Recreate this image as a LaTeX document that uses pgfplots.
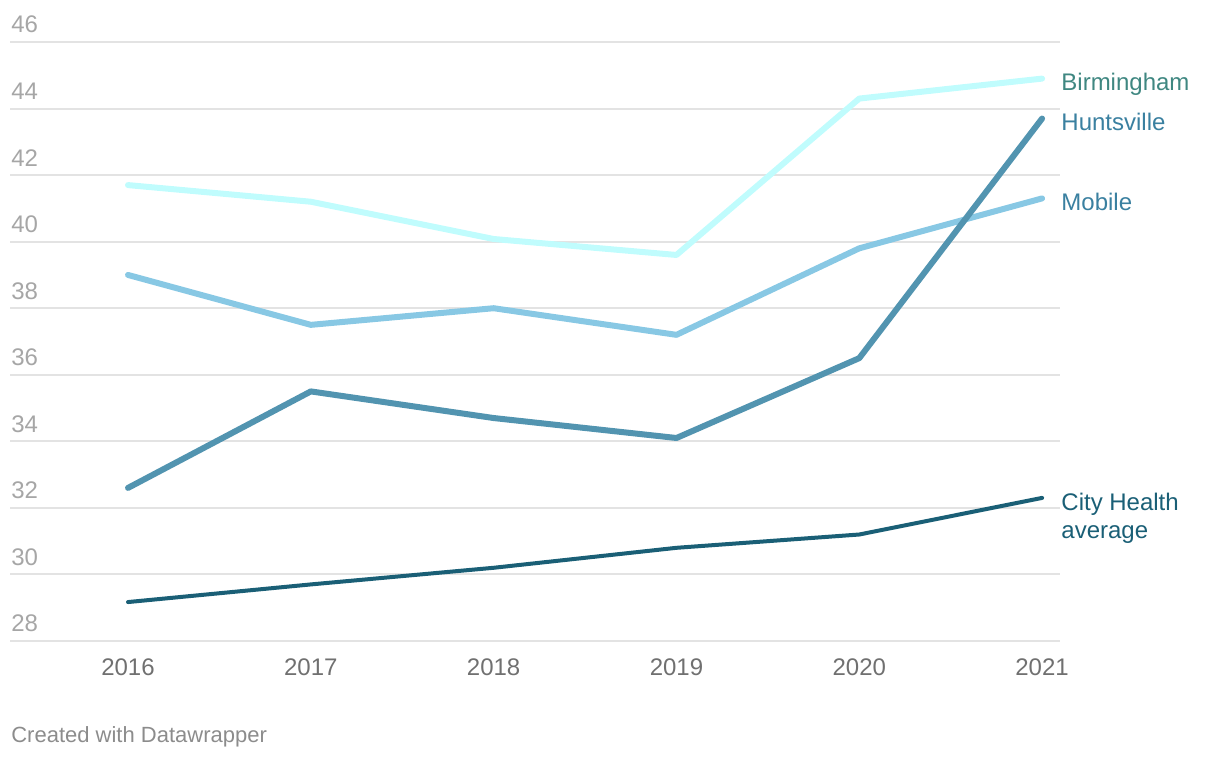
\documentclass[border=0pt]{standalone}
\usepackage{pgfplots}
\pgfplotsset{compat=1.18}
\usepackage{fontspec}
\setmainfont{Liberation Sans}

% 1 px of the reference = 0.6pt
\definecolor{gridc}{HTML}{E3E3E3}
\definecolor{ytc}{HTML}{A6A6A6}
\definecolor{xtc}{HTML}{707070}
\definecolor{foot}{HTML}{8C8C8C}
\definecolor{birm}{HTML}{C0FCFD}
\definecolor{birmlab}{HTML}{3F8781}
\definecolor{mob}{HTML}{88C8E4}
\definecolor{hunt}{HTML}{5294B0}
\definecolor{huntlab}{HTML}{3A80A0}
\definecolor{city}{HTML}{1A5F76}

\begin{document}
\begin{tikzpicture}
\begin{axis}[
  scale only axis,
  width=630pt, height=359.4pt,
  xmin=2015.3545, xmax=2021.098,
  ymin=28, ymax=46,
  axis line style={draw=none},
  tick style={draw=none},
  xtick={2016,2017,2018,2019,2020,2021},
  ytick={28,30,...,46},
  ymajorgrids,
  grid style={gridc, line width=1.2pt},
  /pgf/number format/assume math mode=true,
  x tick label style={/pgf/number format/1000 sep={}},
  xticklabel style={font=\fontsize{14.4pt}{16pt}\selectfont, text=xtc, anchor=base, inner sep=0pt, yshift=-21pt},
  yticklabel style={font=\fontsize{14.4pt}{16pt}\selectfont, text=ytc, anchor=base west, inner sep=0pt, yshift=5.4pt, xshift=0.6pt},
  clip=false,
]
\addplot[birm, line width=3.6pt, line cap=round, line join=round] coordinates {
  (2016,41.7) (2017,41.2) (2018,40.08) (2019,39.6) (2020,44.3) (2021,44.9)
};
\addplot[mob, line width=3.6pt, line cap=round, line join=round] coordinates {
  (2016,39.0) (2017,37.5) (2018,38.0) (2019,37.2) (2020,39.8) (2021,41.3)
};
\addplot[hunt, line width=3.6pt, line cap=round, line join=round] coordinates {
  (2016,32.6) (2017,35.5) (2018,34.7) (2019,34.1) (2020,36.5) (2021,43.7)
};
\addplot[city, line width=2.4pt, line cap=round, line join=round] coordinates {
  (2016,29.17) (2017,29.7) (2018,30.2) (2019,30.8) (2020,31.2) (2021,32.3)
};
\begin{scope}[every node/.style={anchor=west, inner sep=0pt, font=\fontsize{14.4pt}{16.8pt}\selectfont, xshift=11.4pt, yshift=-2.4pt}]
\node[text=birmlab, yshift=-1.2pt] at (axis cs:2021,44.9) {Birmingham};
\node[text=huntlab, yshift=0.6pt] at (axis cs:2021,43.7) {Huntsville};
\node[text=huntlab] at (axis cs:2021,41.3) {Mobile};
\node[text=city, anchor=north west, align=left, yshift=5.4pt] at (axis cs:2021,32.3) {City Health\\average};
\end{scope}
\end{axis}
\node[anchor=base west, inner sep=0pt, text=foot, font=\fontsize{13.2pt}{15pt}\selectfont] at (0.6pt,-61.2pt) {Created with Datawrapper};
\path[use as bounding box] (-6pt,-70.2pt) rectangle (726pt,384.6pt);
\end{tikzpicture}
\end{document}
